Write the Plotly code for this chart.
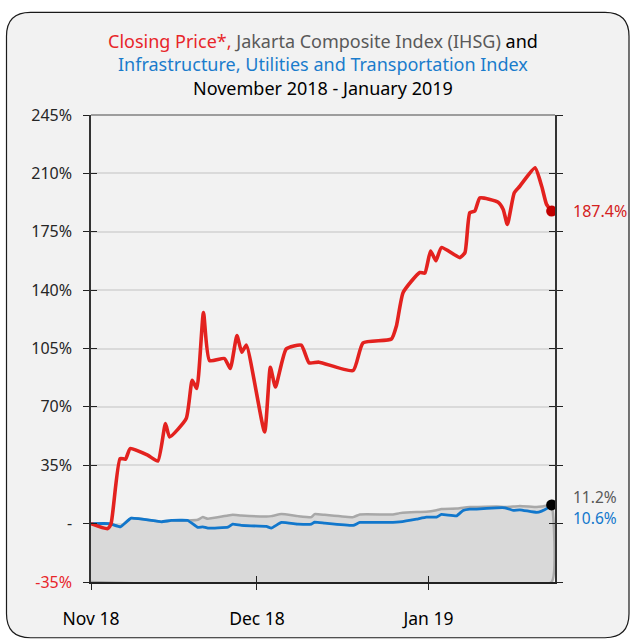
import plotly.graph_objects as go

# ---- data ----
red_dates = [
    "2018-11-01 00:00", "2018-11-04 00:00", "2018-11-04 15:00", "2018-11-06 06:00",
    "2018-11-07 06:00", "2018-11-08 02:00", "2018-11-11 06:00", "2018-11-13 02:00",
    "2018-11-14 11:00", "2018-11-15 05:00", "2018-11-18 05:00", "2018-11-19 07:00",
    "2018-11-20 03:00", "2018-11-21 08:00", "2018-11-22 10:00", "2018-11-25 03:00",
    "2018-11-26 04:00", "2018-11-27 09:00", "2018-11-28 06:00", "2018-11-29 02:00",
    "2018-12-02 09:00", "2018-12-03 10:00", "2018-12-04 08:00", "2018-12-06 07:00",
    "2018-12-09 00:00", "2018-12-10 10:00", "2018-12-12 05:00", "2018-12-18 09:00",
    "2018-12-20 04:00", "2018-12-25 07:00", "2018-12-26 05:00", "2018-12-27 10:00",
    "2018-12-30 10:00", "2018-12-31 08:00", "2019-01-01 09:00", "2019-01-02 08:00",
    "2019-01-03 08:00", "2019-01-06 16:00", "2019-01-07 14:00", "2019-01-08 11:00",
    "2019-01-09 09:00", "2019-01-10 07:00", "2019-01-13 14:00", "2019-01-14 12:00",
    "2019-01-15 06:00", "2019-01-16 12:00", "2019-01-17 12:00", "2019-01-20 06:00",
    "2019-01-21 11:00", "2019-01-22 08:00", "2019-01-23 06:00",
]
red_values = [
    0, -3, 0, 39, 38.7, 45, 41, 37.5, 60, 52, 63, 86, 81, 126.6, 97.8, 99,
    93, 112.7, 102.8, 107, 55, 93.8, 81.9, 104.8, 107, 96.4, 96.8, 91.8, 108.4,
    110.7, 118.7, 138.6, 150.6, 150.2, 163.5, 157.6, 165.5, 159.5, 162.5, 186.4,
    187.4, 195.3, 192.7, 188.4, 179.4, 198.4, 202.3, 213.3, 202.3, 191.4, 187.4,
]

idx_dates = [
    "2018-11-01 00:00", "2018-11-04 08:00", "2018-11-06 08:00", "2018-11-08 06:00",
    "2018-11-13 17:00", "2018-11-15 12:00", "2018-11-18 12:00", "2018-11-20 07:00",
    "2018-11-21 05:00", "2018-11-22 03:00", "2018-11-25 18:00", "2018-11-26 15:00",
    "2018-11-28 04:00", "2018-12-02 17:00", "2018-12-03 14:00", "2018-12-05 10:00",
    "2018-12-08 10:00", "2018-12-10 20:00", "2018-12-11 10:00", "2018-12-13 06:00",
    "2018-12-18 09:00", "2018-12-19 14:00", "2018-12-25 14:00", "2018-12-26 19:00",
    "2018-12-29 20:00", "2018-12-31 15:00", "2019-01-02 11:00", "2019-01-03 08:00",
    "2019-01-06 02:00", "2019-01-07 06:00", "2019-01-08 11:00", "2019-01-09 17:00",
    "2019-01-13 07:00", "2019-01-14 19:00", "2019-01-16 07:00", "2019-01-17 12:00",
    "2019-01-20 13:00", "2019-01-21 11:00", "2019-01-23 06:00",
]
ihsg_values = [
    0, 0, -1.6, 3.3, 1.1, 1.9, 1.9, 2.3, 3.9, 2.9, 4.9, 5.3, 4.9, 4.3, 4.5,
    5.7, 4.5, 3.9, 5.7, 5.3, 3.9, 5.5, 5.5, 6.3, 7.0, 7.1, 8.0, 8.7, 9.0, 9.5,
    9.9, 10.0, 10.3, 9.9, 10.2, 10.6, 9.9, 10.2, 11.2,
]
infra_values = [
    0, 0, -1.9, 3.3, 1.1, 1.9, 1.9, -2.3, -1.9, -2.7, -2.1, -0.3, -1.1, -1.7,
    -2.7, 0.7, -0.3, -0.3, 0.9, 0.3, -1.1, 0.7, 0.7, 1.0, 2.7, 3.9, 3.9, 5.5,
    4.7, 7.9, 8.7, 8.7, 9.5, 9.5, 7.9, 8.3, 6.7, 7.5, 10.6,
]

y_ticks = [-35, 0, 35, 70, 105, 140, 175, 210, 245]
y_ticktext = ["<span style='color:#e8262a'>-35%</span>", "-", "35%", "70%", "105%",
              "140%", "175%", "210%", "245%"]
x_ticks = ["2018-11-01", "2018-12-01", "2019-01-01"]
x_ticktext = ["Nov 18", "Dec 18", "Jan 19"]
x_range = ["2018-11-01", "2019-01-23 20:40"]

title_text = (
    "<span style='color:#e8262a'>Closing Price*,</span> "
    "<span style='color:#595959'>Jakarta Composite Index (IHSG)</span> and<br>"
    "<span style='color:#1a7ccc'>Infrastructure, Utilities and Transportation Index</span><br>"
    "November 2018 - January 2019"
)

RED = "#e3221f"
BLUE = "#1177cc"
GREY_LINE = "#a8a8a8"
GREY_FILL = "#d9d9d9"
FONT = "Noto Sans"

fig = go.Figure()

# IHSG area down to the bottom of the axis
fig.add_trace(go.Scatter(
    x=idx_dates + [idx_dates[-1], idx_dates[0]],
    y=ihsg_values + [y_ticks[0], y_ticks[0]],
    mode="lines", fill="toself", fillcolor=GREY_FILL,
    line=dict(color=GREY_LINE, width=2.5, shape="spline", smoothing=0.3),
    hoverinfo="skip", showlegend=False,
))
fig.add_trace(go.Scatter(
    x=idx_dates, y=infra_values, mode="lines",
    line=dict(color=BLUE, width=2.8, shape="spline", smoothing=0.3),
    showlegend=False,
))
fig.add_trace(go.Scatter(
    x=red_dates, y=red_values, mode="lines",
    line=dict(color=RED, width=3.6, shape="spline", smoothing=0.5),
    showlegend=False,
))
fig.add_trace(go.Scatter(
    x=[red_dates[-1]], y=[red_values[-1]], mode="markers",
    marker=dict(color="#c00000", size=11), showlegend=False,
))
fig.add_trace(go.Scatter(
    x=[idx_dates[-1]], y=[ihsg_values[-1]], mode="markers",
    marker=dict(color="#000000", size=11), showlegend=False,
))
# invisible trace on the overlay axes (gives the inward half of the ticks)
fig.add_trace(go.Scatter(
    x=red_dates, y=red_values, mode="lines", xaxis="x2", yaxis="y2",
    line=dict(color="rgba(0,0,0,0)", width=0), hoverinfo="skip", showlegend=False,
))

# end labels
fig.add_annotation(x=red_dates[-1], y=red_values[-1], text=f"{red_values[-1]:.1f}%",
                   xanchor="left", xshift=19, showarrow=False,
                   font=dict(color="#d42020", size=16, family=FONT))
fig.add_annotation(x=idx_dates[-1], y=ihsg_values[-1], text=f"{ihsg_values[-1]:.1f}%",
                   xanchor="left", xshift=19, yshift=8, showarrow=False,
                   font=dict(color="#595959", size=15.5, family=FONT))
fig.add_annotation(x=idx_dates[-1], y=infra_values[-1], text=f"{infra_values[-1]:.1f}%",
                   xanchor="left", xshift=19, yshift=-12, showarrow=False,
                   font=dict(color=BLUE, size=15.5, family=FONT))

# plot-area pixel box, used to place frame and title in paper coordinates
pl, pr, pt, pb = 91, 555, 115, 584
pw, ph = pr - pl, pb - pt
def px(v):
    return (v - pl) / pw
def py(v):
    return (pb - v) / ph

# title (three lines)
fig.add_annotation(x=0.5, y=py(64), xref="paper", yref="paper", text=title_text,
                   showarrow=False, xanchor="center", yanchor="middle", align="center",
                   font=dict(size=18, family=FONT, color="#000000"))

# rounded frame around the whole chart
x0, x1, y0, y1 = px(6.5), px(629), py(640), py(12)
rx, ry = 24 / pw, 24 / ph
path = (f"M {x0+rx},{y1} L {x1-rx},{y1} Q {x1},{y1} {x1},{y1-ry} "
        f"L {x1},{y0+ry} Q {x1},{y0} {x1-rx},{y0} L {x0+rx},{y0} "
        f"Q {x0},{y0} {x0},{y0+ry} L {x0},{y1-ry} Q {x0},{y1} {x0+rx},{y1} Z")
fig.add_shape(type="path", path=path, xref="paper", yref="paper",
              fillcolor="#f2f2f2", line=dict(color="#1a1a1a", width=1.2), layer="below")
fig.add_shape(type="line", xref="paper", yref="paper", x0=0, x1=1, y0=1, y1=1,
              line=dict(color="#808080", width=1.5), layer="above")

axis_common = dict(showgrid=False, zeroline=False)
fig.update_layout(
    width=630, height=642,
    margin=dict(l=pl, r=630 - pr, t=pt, b=642 - pb),
    paper_bgcolor="white", plot_bgcolor="rgba(0,0,0,0)",
    font=dict(family=FONT, color="#262626"),
    xaxis=dict(type="date", range=x_range, tickvals=x_ticks, ticktext=x_ticktext,
               ticks="outside", ticklen=6, tickcolor="#222", tickwidth=1.3,
               showline=True, linecolor="#222", linewidth=1.5,
               ticklabelstandoff=14, tickfont=dict(size=17.5, color="#000"),
               **axis_common),
    yaxis=dict(range=[y_ticks[0], y_ticks[-1]], tickvals=y_ticks, ticktext=y_ticktext,
               ticks="outside", ticklen=6, tickcolor="#222", tickwidth=1.3,
               showline=True, linecolor="#333", linewidth=1.5, mirror="ticks",
               showgrid=True, gridcolor="#dadada", gridwidth=1.5, zeroline=False,
               ticklabelstandoff=8, tickfont=dict(size=16, color="#262626")),
    xaxis2=dict(type="date", range=x_range, tickvals=x_ticks, overlaying="x",
                ticks="inside", ticklen=6, tickcolor="#222", tickwidth=1.3,
                showticklabels=False, showline=False, **axis_common),
    yaxis2=dict(range=[y_ticks[0], y_ticks[-1]], tickvals=y_ticks, overlaying="y",
                ticks="inside", ticklen=6, tickcolor="#222", tickwidth=1.3,
                showline=True, linecolor="#333", linewidth=1.5, mirror="ticks",
                showticklabels=False, **axis_common),
)

fig.write_html("out.html", config={"displayModeBar": False},
               post_script="document.body.style.margin='0px';")
